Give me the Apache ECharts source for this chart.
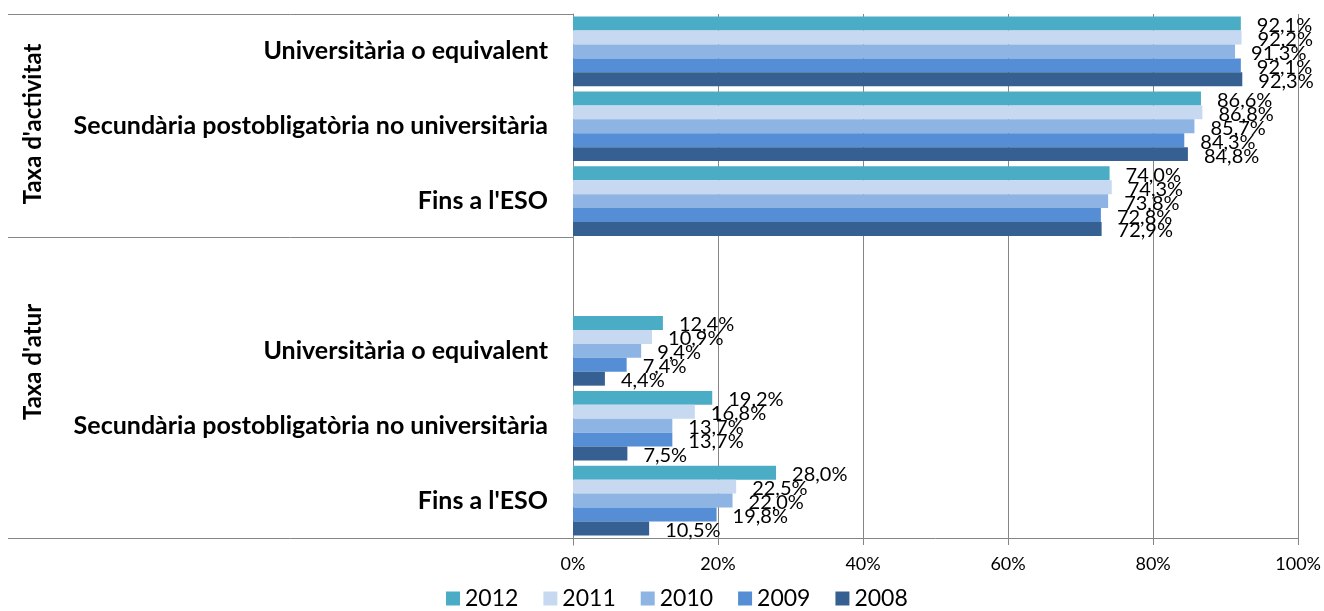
<!DOCTYPE html>
<html>
<head>
<meta charset="utf-8">
<script src="https://cdn.jsdelivr.net/npm/echarts@6/dist/echarts.min.js"></script>
<style>
  html, body { margin: 0; padding: 0; background: #fff; }
  #chart { width: 1324px; height: 611px; }
</style>
</head>
<body>
<div id="chart"></div>
<script>
// categories top to bottom; the empty one is the gap at the start of "Taxa d'atur"
const categories = [
    'Universitària o equivalent',
    'Secundària postobligatòria no universitària',
    "Fins a l'ESO",
    '',
    'Universitària o equivalent',
    'Secundària postobligatòria no universitària',
    "Fins a l'ESO"
];
const groups = ["Taxa d'activitat", "Taxa d'atur"];
const years = ['2012', '2011', '2010', '2009', '2008'];
const colors = ['#4BACC6', '#C6D9F1', '#8EB4E3', '#558ED5', '#376092'];

const v2012 = [92.1, 86.6, 74.0, null, 12.4, 19.2, 28.0];
const v2011 = [92.2, 86.8, 74.3, null, 10.9, 16.8, 22.5];
const v2010 = [91.3, 85.7, 73.8, null, 9.4, 13.7, 22.0];
const v2009 = [92.1, 84.3, 72.8, null, 7.4, 13.7, 19.8];
const v2008 = [92.3, 84.8, 72.9, null, 4.4, 7.5, 10.5];
const values = [v2012, v2011, v2010, v2009, v2008];

const xTicks = [0, 20, 40, 60, 80, 100];

const GRID_TOP = 14, GRID_BOTTOM = 73, GRID_LEFT = 573, GRID_RIGHT = 24;
const H = 611;
const plotH = H - GRID_TOP - GRID_BOTTOM;
const band = plotH / categories.length;
const sepY = Math.round(GRID_TOP + 3 * band) - 1.5;
const botY = H - GRID_BOTTOM + 0.5;
const lineColor = '#868686';
const font = 'Lato, "Open Sans", sans-serif';

const chart = echarts.init(document.getElementById('chart'), null, { renderer: 'canvas' });

const series = years.map((y, i) => ({
    name: y,
    type: 'bar',
    data: values[i],
    barGap: '0%',
    barCategoryGap: '7%',
    itemStyle: { color: colors[i] },
    label: {
        show: true,
        position: 'right',
        distance: 16,
        offset: [0, 2],
        color: '#000',
        fontFamily: font,
        fontSize: 20,
        formatter: p => p.value.toFixed(1).replace('.', ',') + '%'
    },
    emphasis: { disabled: true }
}));

const option = {
    animation: false,
    color: colors,
    grid: { top: GRID_TOP, bottom: GRID_BOTTOM, left: GRID_LEFT, right: GRID_RIGHT, containLabel: false },
    xAxis: {
        type: 'value',
        min: 0,
        max: 100,
        interval: 20,
        axisLine: { show: true, lineStyle: { color: lineColor, width: 1 } },
        axisTick: { show: true, length: 7, lineStyle: { color: lineColor } },
        splitLine: { show: true, lineStyle: { color: lineColor, width: 1 } },
        axisLabel: {
            margin: 17,
            color: '#000',
            fontFamily: font,
            fontSize: 18,
            formatter: v => (xTicks.includes(v) ? v + '%' : '')
        }
    },
    yAxis: {
        type: 'category',
        inverse: true,
        data: categories,
        axisLine: { show: true, onZero: false, lineStyle: { color: lineColor, width: 1 } },
        axisTick: { show: false },
        axisLabel: {
            margin: 25,
            color: '#000',
            fontFamily: font,
            fontWeight: 'bold',
            fontSize: 25
        }
    },
    legend: {
        data: years,
        bottom: 1,
        left: 446,
        padding: 0,
        icon: 'rect',
        itemWidth: 14,
        itemHeight: 14,
        itemGap: 25,
        textStyle: { color: '#000', fontFamily: font, fontSize: 23 }
    },
    graphic: [
        { type: 'line', shape: { x1: 8, y1: GRID_TOP + 0.5, x2: GRID_LEFT, y2: GRID_TOP + 0.5 }, style: { stroke: lineColor, lineWidth: 1 } },
        { type: 'line', shape: { x1: 8, y1: sepY, x2: GRID_LEFT, y2: sepY }, style: { stroke: lineColor, lineWidth: 1 } },
        { type: 'line', shape: { x1: 8, y1: botY, x2: GRID_LEFT, y2: botY }, style: { stroke: lineColor, lineWidth: 1 } },
        { type: 'line', shape: { x1: GRID_LEFT + 0.5, y1: botY, x2: GRID_LEFT + 0.5, y2: botY + 7 }, style: { stroke: lineColor, lineWidth: 1 } },
        {
            type: 'text', x: 33, y: 124, rotation: Math.PI / 2,
            style: { text: groups[0], fill: '#000', font: 'bold 24px ' + font, align: 'center', verticalAlign: 'middle' }
        },
        {
            type: 'text', x: 33, y: 362, rotation: Math.PI / 2,
            style: { text: groups[1], fill: '#000', font: 'bold 24px ' + font, align: 'center', verticalAlign: 'middle' }
        }
    ],
    series
};

chart.setOption(option);
</script>
</body>
</html>
